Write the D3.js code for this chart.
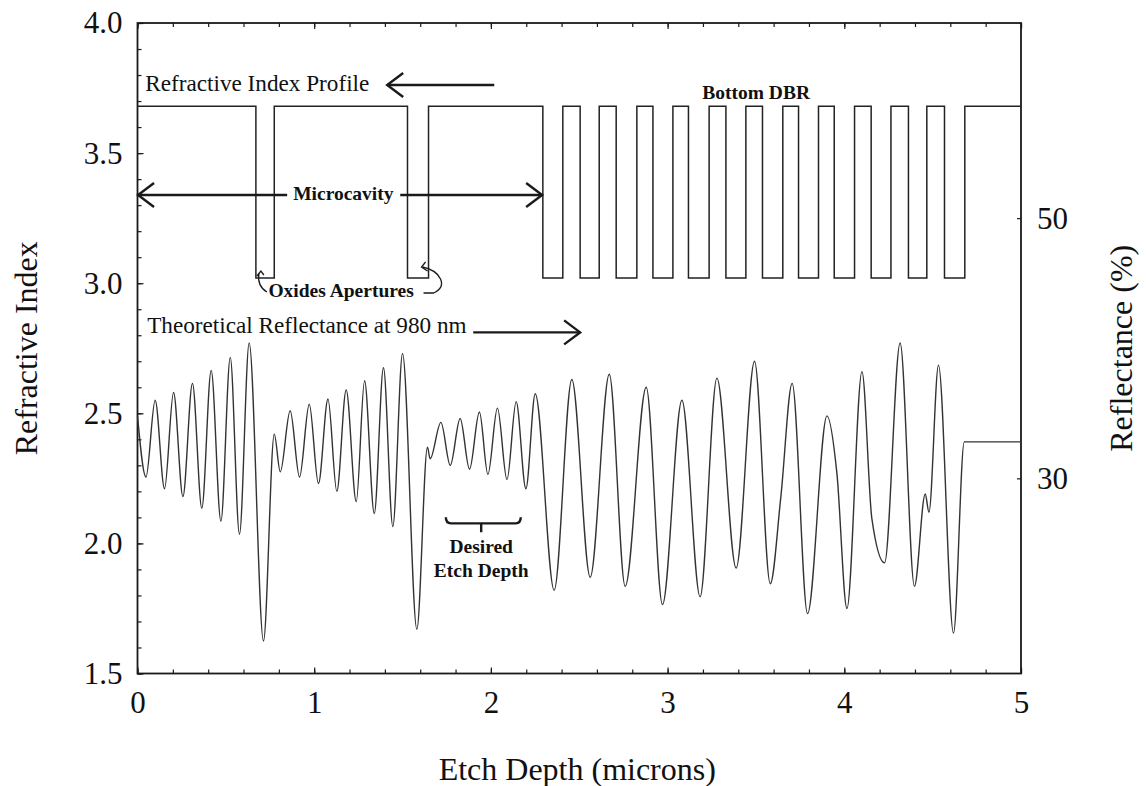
<!DOCTYPE html>
<html>
<head>
<meta charset="utf-8">
<script src="https://cdn.jsdelivr.net/npm/d3@7"></script>
<style>
  html, body { margin: 0; padding: 0; background: #ffffff; }
  svg { display: block; }
  text { font-family: "Liberation Serif", "Times New Roman", serif; fill: #111; }
</style>
</head>
<body>
<svg id="chart" width="1146" height="786"></svg>
<script>
// ---------------- DATA ----------------
// Refractive index profile: layer boundaries (microns) and index of each layer
const layerEdges = [0, 0.670, 0.774, 1.528, 1.647, 2.294, 2.407, 2.505, 2.613, 2.709, 2.826, 2.917, 3.030,
  3.118, 3.235, 3.330, 3.443, 3.537, 3.652, 3.741, 3.854, 3.943, 4.058, 4.152, 4.264, 4.363, 4.467,
  4.567, 4.682, 5.0];
const layerIndex = [3.68, 3.02, 3.68, 3.02, 3.68, 3.02, 3.68, 3.02, 3.68, 3.02, 3.68, 3.02, 3.68,
  3.02, 3.68, 3.02, 3.68, 3.02, 3.68, 3.02, 3.68, 3.02, 3.68, 3.02, 3.68, 3.02, 3.68, 3.02, 3.68, 3.68];

// Theoretical reflectance at 980 nm (%), vs etch depth (microns)
const reflDepth = [0.000, 0.048, 0.100, 0.153, 0.204, 0.257, 0.311, 0.364, 0.417, 0.472, 0.525, 0.577,
  0.632, 0.713, 0.774, 0.808, 0.864, 0.917, 0.972, 1.024, 1.078, 1.128, 1.181, 1.238, 1.285, 1.340,
  1.392, 1.445, 1.500, 1.581, 1.641, 1.656, 1.717, 1.770, 1.826, 1.879, 1.935, 1.983, 2.037, 2.091,
  2.143, 2.198, 2.251, 2.358, 2.458, 2.562, 2.670, 2.760, 2.879, 2.971, 3.081, 3.184, 3.279, 3.388,
  3.492, 3.581, 3.641, 3.705, 3.792, 3.902, 3.958, 4.015, 4.100, 4.156, 4.228, 4.316, 4.397, 4.458,
  4.479, 4.533, 4.618, 4.679, 5.000];
const reflValue = [34.8, 30.1, 36.0, 29.2, 36.6, 28.6, 37.3, 27.7, 38.3, 26.7, 39.3, 25.7,
  40.4, 17.5, 33.4, 30.5, 35.2, 30.1, 35.7, 29.6, 36.1, 29.0, 36.8, 28.2, 37.5, 27.3,
  38.5, 26.3, 39.6, 18.4, 32.4, 31.5, 34.3, 31.0, 34.6, 30.7, 35.1, 30.3, 35.4, 29.9,
  35.9, 29.2, 36.5, 21.4, 37.6, 22.4, 38.0, 21.7, 37.0, 20.3, 36.0, 20.9, 37.7, 23.1,
  39.0, 21.9, 28.6, 37.3, 19.6, 34.8, 30.4, 20.0, 38.2, 26.9, 23.5, 40.4, 21.7, 28.8,
  27.4, 38.7, 18.1, 32.8, 32.8];

// Axis ticks
const xTicks = [0, 1, 2, 3, 4, 5];
const yLeftTicks = [1.5, 2.0, 2.5, 3.0, 3.5, 4.0];
const yRightTicks = [30, 50];
const xLabel = "Etch Depth (microns)";
const yLeftLabel = "Refractive Index";
const yRightLabel = "Reflectance (%)";

// ---------------- LAYOUT ----------------
const svg = d3.select("#chart");
const L = 137.5, R = 1021, T = 23, B = 673.5;

const x = d3.scaleLinear().domain([0, 5]).range([L, R]);
const y = d3.scaleLinear().domain([1.5, 4.0]).range([B, T]);
const yR = d3.scaleLinear().domain([15, 65]).range([B, T]);

const ink = "#1a1a1a";

// ---------------- AXES ----------------
function styleAxis(g) {
  g.select(".domain").remove();
  g.selectAll("line").attr("stroke", ink).attr("stroke-width", 1.2);
  g.selectAll("text").attr("font-family", "Liberation Serif, serif").attr("font-size", 31).attr("fill", "#111");
}

const minorX = d3.range(0, 5.001, 0.2).map(v => +v.toFixed(1));
const minorY = d3.range(1.5, 4.001, 0.1).map(v => +v.toFixed(1));

svg.append("g").attr("transform", `translate(0,${B})`)
  .call(d3.axisBottom(x).tickValues(minorX).tickSize(-4).tickFormat(""))
  .call(styleAxis);
svg.append("g").attr("transform", `translate(0,${B})`)
  .call(d3.axisBottom(x).tickValues(xTicks).tickSize(-6).tickPadding(17).tickFormat(d3.format("d")))
  .call(styleAxis);

svg.append("g").attr("transform", `translate(0,${T})`)
  .call(d3.axisTop(x).tickValues(minorX).tickSize(-4).tickFormat(""))
  .call(styleAxis);
svg.append("g").attr("transform", `translate(0,${T})`)
  .call(d3.axisTop(x).tickValues(xTicks).tickSize(-6).tickFormat(""))
  .call(styleAxis);

svg.append("g").attr("transform", `translate(${L},0)`)
  .call(d3.axisLeft(y).tickValues(minorY).tickSize(-4).tickFormat(""))
  .call(styleAxis);
svg.append("g").attr("transform", `translate(${L},0)`)
  .call(d3.axisLeft(y).tickValues(yLeftTicks).tickSize(-6).tickPadding(15).tickFormat(d3.format(".1f")))
  .call(styleAxis);

svg.append("g").attr("transform", `translate(${R},0)`)
  .call(d3.axisRight(yR).tickValues(yRightTicks).tickSize(-4).tickPadding(16).tickFormat(d3.format("d")))
  .call(styleAxis);

// frame
svg.append("rect").attr("x", L).attr("y", T).attr("width", R - L).attr("height", B - T)
  .attr("fill", "none").attr("stroke", ink).attr("stroke-width", 1.8);

// axis titles
svg.append("text").attr("x", (L + R) / 2 - 2).attr("y", 780).attr("text-anchor", "middle")
  .attr("font-size", 32).text(xLabel);
svg.append("text").attr("transform", `translate(37,${(T + B) / 2}) rotate(-90)`)
  .attr("text-anchor", "middle").attr("font-size", 32).text(yLeftLabel);
svg.append("text").attr("transform", `translate(1132,${(T + B) / 2}) rotate(-90)`)
  .attr("text-anchor", "middle").attr("font-size", 32).text(yRightLabel);

// ---------------- SERIES ----------------
const profile = layerEdges.map((d, i) => [d, layerIndex[i]]);
svg.append("path").datum(profile)
  .attr("fill", "none").attr("stroke", "#222").attr("stroke-width", 1.5)
  .attr("d", d3.line().x(d => x(d[0])).y(d => y(d[1])).curve(d3.curveStepAfter));

const refl = reflDepth.map((d, i) => [d, reflValue[i]]);
svg.append("path").datum(refl)
  .attr("fill", "none").attr("stroke", "#333").attr("stroke-width", 1.4)
  .attr("d", d3.line().x(d => x(d[0])).y(d => yR(d[1])).curve(d3.curveMonotoneX));

// ---------------- ANNOTATIONS ----------------
const ann = svg.append("g");
function arrow(x1, x2, yv) {
  // straight arrow from x1 to x2 (data units) at index yv, open chevron head at x2
  const px1 = x(x1), px2 = x(x2), py = y(yv);
  ann.append("line").attr("x1", px1).attr("x2", px2).attr("y1", py).attr("y2", py)
    .attr("stroke", ink).attr("stroke-width", 2.4);
  const s = px2 > px1 ? -1 : 1;
  ann.append("path")
    .attr("d", `M${px2 + s * 16},${py - 12} L${px2},${py} L${px2 + s * 16},${py + 12}`)
    .attr("fill", "none").attr("stroke", ink).attr("stroke-width", 2.4);
}

// Refractive Index Profile
ann.append("text").attr("x", x(0.044)).attr("y", y(3.740)).attr("font-size", 23.2).text("Refractive Index Profile");
arrow(2.019, 1.413, 3.762);

// Bottom DBR
ann.append("text").attr("x", x(3.196)).attr("y", y(3.708)).attr("font-size", 19.5).attr("font-weight", "bold").text("Bottom DBR");

// Microcavity
ann.append("text").attr("x", x(0.881)).attr("y", y(3.320)).attr("font-size", 19.5).attr("font-weight", "bold").text("Microcavity");
arrow(0.847, 0.003, 3.339);
arrow(1.487, 2.290, 3.339);

// Oxides Apertures
ann.append("text").attr("x", x(0.741)).attr("y", y(2.947)).attr("font-size", 19.5).attr("font-weight", "bold").text("Oxides Apertures");
{
  const cx = x(0.670), cy = y(3.02);
  ann.append("path")
    .attr("d", `M${cx + 11},${cy + 14} Q${cx + 1},${cy + 8} ${cx + 3},${cy - 5}`)
    .attr("fill", "none").attr("stroke", ink).attr("stroke-width", 1.3);
  ann.append("path")
    .attr("d", `M${cx + 1},${cy - 2} L${cx + 5},${cy - 7} L${cx + 8},${cy - 3}`)
    .attr("fill", "none").attr("stroke", ink).attr("stroke-width", 1.3);
  const rx = x(1.647), ry = y(3.02);
  ann.append("path")
    .attr("d", `M${rx - 5},${ry + 15} L${rx + 5},${ry + 15} Q${rx + 16},${ry + 10} ${rx + 12},${ry + 1} Q${rx + 8},${ry - 8} ${rx - 6},${ry - 11}`)
    .attr("fill", "none").attr("stroke", ink).attr("stroke-width", 1.3);
  ann.append("path")
    .attr("d", `M${rx - 3},${ry - 16} L${rx - 7},${ry - 11} L${rx - 1},${ry - 7}`)
    .attr("fill", "none").attr("stroke", ink).attr("stroke-width", 1.3);
}

// Theoretical Reflectance
ann.append("text").attr("x", x(0.055)).attr("y", y(2.807)).attr("font-size", 23.2).text("Theoretical Reflectance at 980 nm");
arrow(1.900, 2.505, 2.811);

// Desired Etch Depth bracket
{
  const a = x(1.745), b = x(2.169), m = x(1.945), py = y(2.077);
  ann.append("path")
    .attr("d", `M${a},${py - 6} Q${a},${py} ${a + 5},${py} L${b - 5},${py} Q${b},${py} ${b},${py - 6} M${m},${py} L${m},${py + 9}`)
    .attr("fill", "none").attr("stroke", ink).attr("stroke-width", 2.4);
  ann.append("text").attr("x", m).attr("y", y(1.963)).attr("text-anchor", "middle")
    .attr("font-size", 19.5).attr("font-weight", "bold").text("Desired");
  ann.append("text").attr("x", m).attr("y", y(1.871)).attr("text-anchor", "middle")
    .attr("font-size", 19.5).attr("font-weight", "bold").text("Etch Depth");
}
</script>
</body>
</html>
